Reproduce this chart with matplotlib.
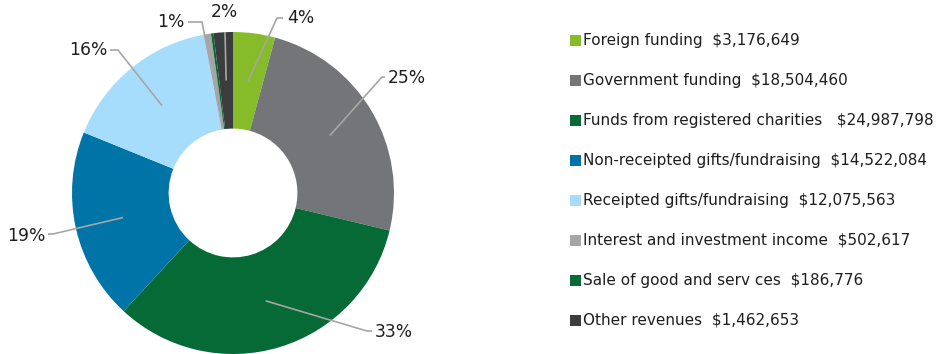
import matplotlib
matplotlib.use("Agg")
import matplotlib.pyplot as plt
import numpy as np
from matplotlib.patches import Rectangle

# Revenue sources and amounts
categories = [
    "Foreign funding",
    "Government funding",
    "Funds from registered charities",
    "Non-receipted gifts/fundraising",
    "Receipted gifts/fundraising",
    "Interest and investment income",
    "Sale of good and serv ces",
    "Other revenues",
]
amounts = [3176649, 18504460, 24987798, 14522084, 12075563, 502617, 186776, 1462653]
legend_gaps = ["  ", "  ", "   ", "  ", "  ", "  ", "  ", "  "]
colors = ["#86BC2A", "#737578", "#066A36", "#0074A6", "#A6DDFD",
          "#A5A5A5", "#066A36", "#3B3C3E"]

W, H = 938, 354
fig = plt.figure(figsize=(W / 100, H / 100), dpi=100)
ax = fig.add_axes([0, 0, 1, 1])

cx, cy_px, R = 233, 193, 161
cy = H - cy_px

wedges, _ = ax.pie(amounts, colors=colors, startangle=90, counterclock=False,
                   radius=R, center=(cx, cy),
                   wedgeprops=dict(width=0.6 * R, linewidth=0))
ax.set_xlim(0, W)
ax.set_ylim(0, H)
ax.set_aspect("equal")
ax.axis("off")

total = float(sum(amounts))
fracs = [a / total for a in amounts]

# Leader-line geometry per slice: (start radius fraction, elbow, end, text pos, ha)
leaders = {
    0: (0.70, (277, 18), (283, 18), (287, 18), "left"),
    1: (0.70, (382, 77), (385, 77), (388, 78), "left"),
    2: (0.70, (367, 331), (372, 331), (375, 332), "left"),
    3: (0.70, (53, 234), (48, 234), (45, 236), "right"),
    4: (0.70, (118, 50), (110, 50), (107, 50), "right"),
    5: (0.48, (202, 22), (188, 22), (184, 22), "right"),
    7: (0.70, (225, 32), (225, 32), (224, 12), "center"),
}

txt_color = "#1E1E1E"
line_color = "#A6A6A6"
cum = 0.0
for i, f in enumerate(fracs):
    mid = cum + f / 2
    cum += f
    if i not in leaders:
        continue
    rfrac, elbow, end, tpos, ha = leaders[i]
    ang = np.deg2rad(90 - 360 * mid)
    sx = cx + rfrac * R * np.cos(ang)
    sy = cy + rfrac * R * np.sin(ang)
    xs = [sx, elbow[0], end[0]]
    ys = [sy, H - elbow[1], H - end[1]]
    ax.plot(xs, ys, color=line_color, lw=1.2, solid_capstyle="butt")
    ax.text(tpos[0], H - tpos[1], f"{f * 100:.0f}%", ha=ha, va="center",
            fontsize=12.3, color=txt_color, family="DejaVu Sans")

# Legend
for k, (name, amt, gap, col) in enumerate(zip(categories, amounts, legend_gaps, colors)):
    y = 40 + 40 * k
    ax.add_patch(Rectangle((570, H - y - 5.5), 11, 11, facecolor=col, edgecolor="none"))
    ax.text(583, H - y, f"{name}{gap}${amt:,}", ha="left", va="center",
            fontsize=11, color=txt_color, family="DejaVu Sans")

fig.savefig("out.png", dpi=100)
